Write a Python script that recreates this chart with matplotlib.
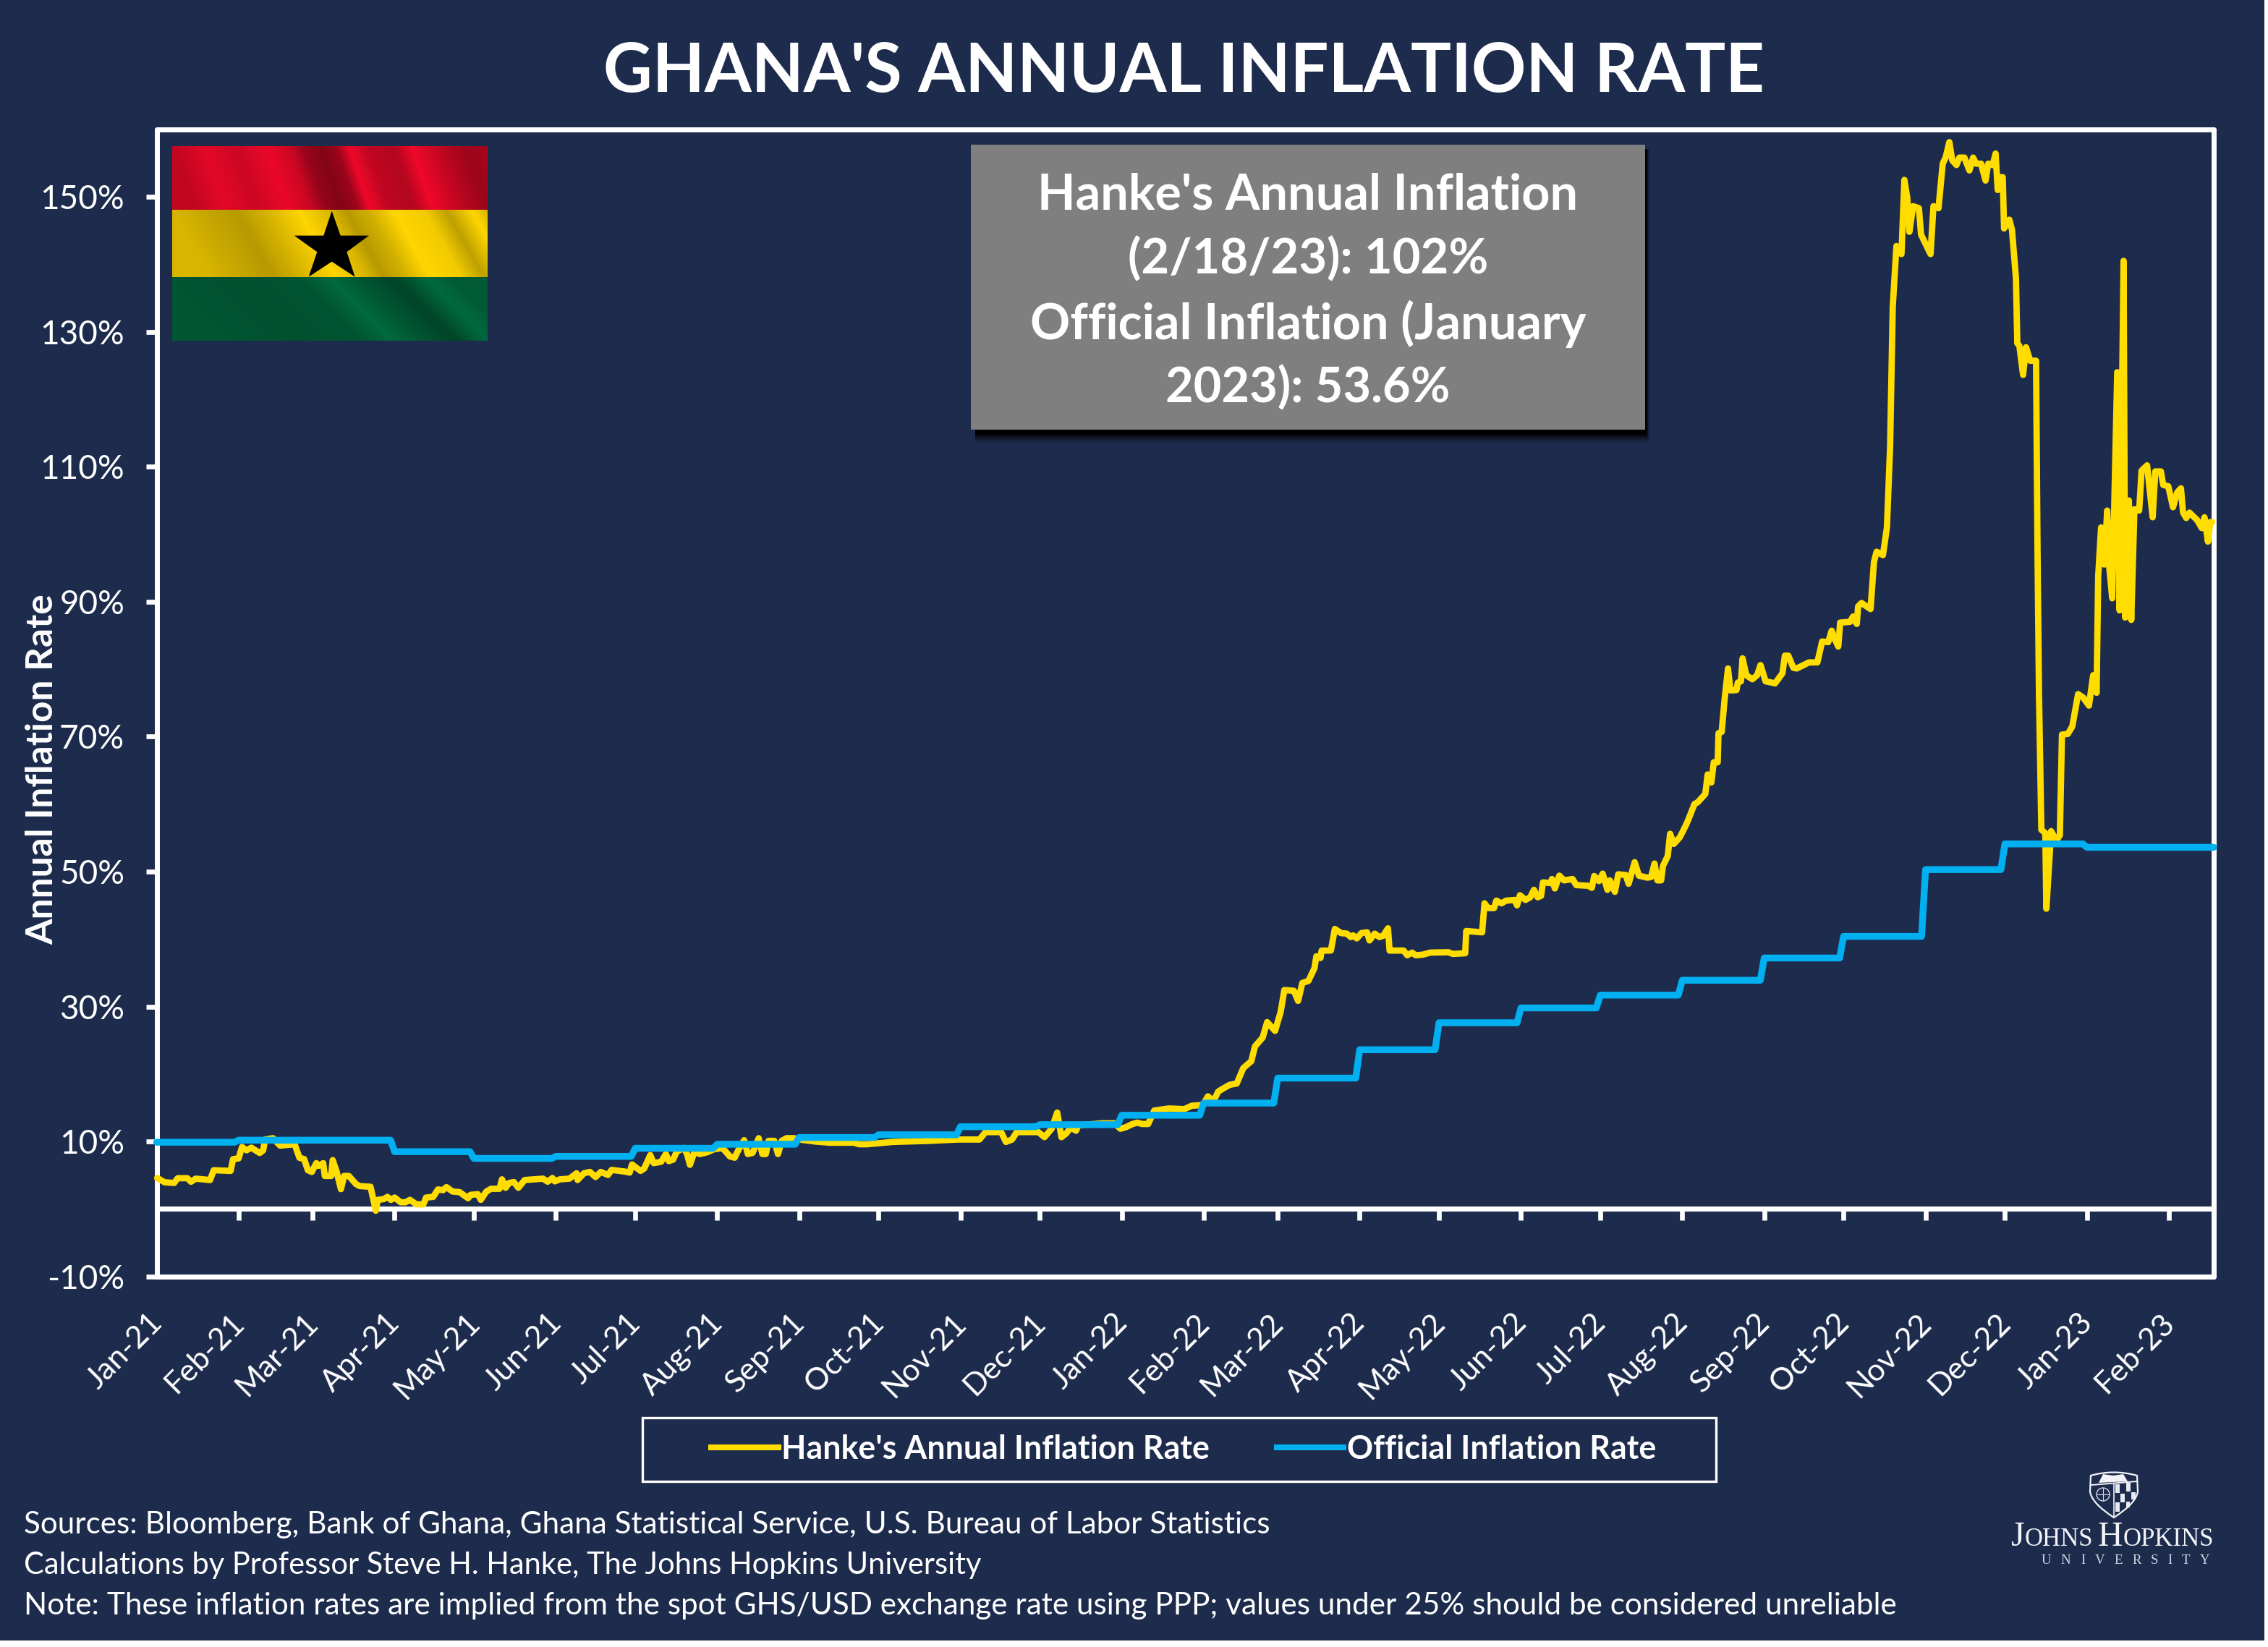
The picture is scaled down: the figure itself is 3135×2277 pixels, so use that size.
import numpy as np
import pandas as pd
import matplotlib
matplotlib.use("Agg")
import matplotlib.pyplot as plt
from matplotlib.patches import Rectangle, Polygon, Circle, PathPatch
from matplotlib.path import Path
from matplotlib.lines import Line2D
from matplotlib.transforms import ScaledTranslation

BG = "#1D2B4D"; YEL = "#FFDD00"; BLU = "#00B0F0"; WHITE = "#FFFFFF"
W, H = 3135, 2277

month_labels = ["Jan-21","Feb-21","Mar-21","Apr-21","May-21","Jun-21","Jul-21","Aug-21","Sep-21","Oct-21","Nov-21","Dec-21",
                "Jan-22","Feb-22","Mar-22","Apr-22","May-22","Jun-22","Jul-22","Aug-22","Sep-22","Oct-22","Nov-22","Dec-22",
                "Jan-23","Feb-23"]
official_values = [9.9,10.2,10.2,8.5,7.5,7.8,9.0,9.6,10.6,11.0,12.2,12.5,13.9,15.7,19.4,23.6,27.6,29.8,31.7,33.9,37.2,40.4,50.3,54.1,53.6,53.6]
y_ticks = [-10,10,30,50,70,90,110,130,150]

hanke_days = [0.2,3,6.6,8,11.6,13,14.8,20.2,21.6,28,28.9,31,32.3,34,35.8,39,40.3,41,44,46.7,52.2,54,55.8,57.2,58.7,60.4,61.3,63,63.6,66,66.6,68.1,69.7,70.9,72.7,75.4,76.8,80.9,82.9,83.6,85.9,87.3,88.6,90,92.3,94.1,95.8,98.2,100.9,101.9,104.6,106.4,108.3,109.6,111.9,114.6,117.8,118.7,121.5,122.6,124.7,126.5,129.7,130.6,132,
    133.3,135.1,136.8,139.2,146.1,147.9,149.7,150.6,152.5,156.1,158.8,159.2,161.6,163.9,166,168,170.7,172.1,177.1,178.9,179.8,183,184.4,186.7,188,190.8,192.6,193.7,195.3,196.7,199.4,200.6,201.7,203.4,205.4,208.1,210.8,214,216.8,218.6,220.4,222.2,223.6,225.4,227.7,229.1,230.4,231.4,233.6,235,236.4,238.2,241,243.2,249.1,254.6,263.7,265.6,
    268.7,278.4,292,303,305.7,311.2,313.5,319.4,321.2,323.5,325.3,333.5,335.8,338.5,340.6,342.2,344,345.8,347.7,348.6,357.7,362.3,364.5,366.4,369.1,370.9,372.7,375,377.3,382.8,388.7,391.4,395.1,396,397.6,399.7,401.5,403.1,405.8,408.5,411,414,415.4,418.3,420,423,425.1,426.5,
    430.1,431.7,433.3,435.6,437.9,438.6,440.2,440.6,444.1,445.6,447.9,450.2,451.6,452.5,453.9,455.7,457.8,458.7,460.7,462.5,463.9,465.7,466.3,471.6,473,474.8,476.2,478.9,481.7,488.5,490.3,494.9,495.3,501.3,502.2,503.6,505.8,506.7,508.6,510.4,513.6,514.5,515.6,517.7,519.5,520.9,522.3,523.6,524.3,527.3,527.7,528.8,530.5,532.3,535.5,536.9,541.4,542.8,543.7,545.5,546.9,548.7,549.6,551.5,552.8,555.6,556.7,559,560.6,563.8,565.2,566.5,567.6,569,569.7,571.5,572.4,573.8,576.1,578.4,579.3,581.6,582.9,585.7,586.6,588,588.9,590.4,590.7,591.9,593,594.3,595.2,597.5,598,599.2,599.8,601.2,603.5,605.3,606.6,608.5,612.1,614.9,615.8,617.1,619,620.3,624.9,628.1,629.9,632.2,633.5,634.5,636,636.7,640.4,641.6,643,643.5,644.8,648.2,649.5,650.5,652.9,654.4,655.6,656.6,658,659.9,661,662.1,662.9,664.3,666.5,667.3,670.9,672,673.9,675.5,676.6,678,679.1,680.7,681.8,683.7,685.6,687,688.1,690,691.7,692.7,694.4,695.5,696.3,697.4,698.2,698.7,700.7,701.7,703.2,703.7,704.5,705.9,707,708.6,710.8,711.4,711.9,712.8,714.3,714.7,716.5,718.5,719.8,720.6,722.8,724.5,726.7,728.6,730.8,732.4,733.7,734.3,735.4,736.6,737.7,738.4,739.6,741.5,742.4,743.9,744.5,745.9,746.8,748,749.8,750.7,752.8,754.9,755.9,758,758.9,760.8,762.6,764.2,765.6,766.4,767.6,768.8,771.7,773.5,774.5,775.8,776.7,777.4]
hanke_values = [4.6,3.97,3.86,4.57,4.57,4.04,4.5,4.3,5.75,5.65,7.4,7.5,9.2,8.7,9.1,8.3,8.7,10.3,10.5,9.4,9.6,7.6,7.4,5.75,5.5,6.8,6.4,6.8,4.9,4.9,7.25,5.5,2.95,4.9,4.9,3.7,3.4,3.3,-0.25,1.36,1.47,1.8,1.36,1.7,1.0,1.0,1.36,0.7,0.7,1.7,1.8,2.9,2.8,3.25,2.6,2.5,1.6,2.1,2.2,1.36,2.6,3.0,3.0,4.4,3.15,
    3.86,4.0,3.15,4.3,4.5,4.05,4.6,4.1,4.4,4.5,5.3,4.3,5.3,5.5,4.75,5.5,5.05,5.8,5.55,5.4,6.6,5.65,6.0,8.0,6.8,7.0,8.15,7.1,7.3,8.5,9.05,8.15,6.55,8.5,8.15,8.4,8.85,9.05,7.8,7.6,9.05,10.2,8.15,8.33,10.5,8.15,8.15,10.1,10.1,8.15,10.1,10.5,10.5,10.3,10.0,9.83,9.83,9.6,
    9.6,9.94,10.1,10.3,10.3,10.3,11.4,11.4,9.94,10.3,11.4,11.4,10.65,11.9,14.3,10.65,11.2,12.1,11.6,12.4,12.7,12.7,11.9,12.1,12.6,12.8,12.6,12.6,14.6,14.9,14.8,15.3,15.4,15.65,16.7,16,17.4,17.8,18.4,18.6,20.9,21.9,24.1,25.4,27.7,26.4,29.2,32.45,
    32.34,30.84,33.5,33.8,35.7,37.45,37.2,38.3,38.3,41.5,40.9,40.8,40.3,40.55,40.1,40.9,41,39.8,40.8,40.3,40.5,41.6,38.3,38.3,37.6,38,37.6,37.7,38,38.05,37.8,37.9,41.2,41,45.3,44.6,44.6,45.7,45.3,45.7,45.8,45,46.5,45.8,46.2,47.3,46.2,46.4,48.4,48.3,48.9,47.5,49.4,48.7,48.9,48,47.9,47.6,49.35,48.6,49.7,47.3,48.7,47,49.6,49.5,48.2,51.4,49.4,49.1,49.2,51.2,48.7,48.7,50.85,52.3,55.6,54.1,55.1,56.9,57.7,60,60.3,61.5,64.4,63.2,66.2,66.2,70.5,70.7,75.5,80.1,76.85,76.9,78,78.2,81.6,79.1,78.5,79.1,80.6,78.2,77.9,79.4,82,82,80.2,80.1,81,81,84.1,84,85.7,84.6,83.35,86.9,87,87.8,86.7,89.3,89.8,88.9,95.9,97.4,96.9,101,113,133.7,142.7,141.5,152.5,149.8,144.8,148.6,148.3,144.4,141.5,148.6,148.3,154.9,155.8,158.1,155.4,154.7,155.8,155.8,153.9,155.8,154.9,154.9,152.4,154.9,154.7,156.4,151,152.9,152.9,145.3,146.6,145.1,137.9,128.3,127.9,123.6,127.7,125.7,125.7,95.6,76.5,56.2,55.7,44.5,56,54.6,55.4,70.3,70.4,71.5,76.3,75.8,74.6,79.1,76.5,93.8,101,95.5,103.5,95.5,90.5,124,88.7,140.5,87.65,105,87.3,103.7,103.5,109.4,110.2,102.5,109.3,109.3,107.3,107.1,104,106.2,106.8,103.2,102.4,103.2,102.1,100.9,102.5,98.9,101.8,101.8]

hanke_label = "Hanke's Annual Inflation Rate"
official_label = "Official Inflation Rate"
title = "GHANA'S ANNUAL INFLATION RATE"
box_lines = ["Hanke's Annual Inflation", "(2/18/23): 102%", "Official Inflation (January", "2023): 53.6%"]
notes = ["Sources: Bloomberg, Bank of Ghana, Ghana Statistical Service, U.S. Bureau of Labor Statistics",
         "Calculations by Professor Steve H. Hanke, The Johns Hopkins University",
         "Note: These inflation rates are implied from the spot GHS/USD exchange rate using PPP; values under 25% should be considered unreliable"]

plt.rcParams["font.family"] = ["Lato", "DejaVu Sans"]
fig = plt.figure(figsize=(W/100, H/100), dpi=100, facecolor="white")

# ---- pixel-space decoration layer
deco = fig.add_axes([0, 0, 1, 1], zorder=0)
deco.set_xlim(0, W); deco.set_ylim(H, 0); deco.axis("off")
deco.add_patch(Rectangle((0, 0), 3130, 2268, fc=BG, ec="none"))

# flag: band colour times a hand-placed fold shading, the folds leaning with height
def band(base, xs, shades, lean, rows):
    u = np.linspace(0, 1, 440)
    img = np.zeros((rows, 440, 3), dtype=np.uint8)
    for r in range(rows):
        col = np.interp(u - lean * r / rows, xs, shades)
        img[r] = np.clip(col[:, None] * np.array(base), 0, 255).astype(np.uint8)
    return img
red = band((240, 8, 42), [-.2,0,.1,.2,.3,.37,.42,.47,.52,.56,.62,.7,.76,.85,.93,1],
           [.85,.8,.95,.85,.98,.85,.62,.55,.65,1.0,.8,.75,1,.8,.65,.7], .07, 88)
yel = band((255, 214, 0), [-.2,0,.1,.2,.3,.4,.5,.55,.62,.7,.8,.87,.95,1],
           [.85,.85,.78,.72,.85,1,.85,.72,.82,1,.95,.75,1,.85], .12, 93)
grn = band((0, 100, 60), [-.3,0,.2,.4,.5,.6,.7,.8,.9,1],
           [.85,.85,.8,.85,1.05,.85,.68,1.05,.9,.9], .2, 88)
deco.imshow(red, extent=(238, 674, 290, 202), aspect="auto", zorder=1, interpolation="bilinear")
deco.imshow(yel, extent=(238, 674, 383, 290), aspect="auto", zorder=1, interpolation="bilinear")
deco.imshow(grn, extent=(238, 674, 471, 383), aspect="auto", zorder=1, interpolation="bilinear")
deco.set_xlim(0, W); deco.set_ylim(H, 0)
star = [(776,365),(812,467),(930,467),(838,535),(872,638),(776,575),(680,638),(715,535),(620,467),(742,467)]
deco.add_patch(Polygon([(200+a/3, 170+b/3) for a, b in star], fc="black", ec="none", zorder=2))

# grey box and shadow
bx0, by0, bx1, by1 = 1342, 200, 2274, 594
for d, a in [(18, .12), (15, .2), (12, .35), (9, .6), (6, .9)]:
    deco.add_patch(Rectangle((bx0 + 6, by0 + 6), bx1 - bx0 - 6 + d*.35, by1 - by0 + d - 6, fc="black", ec="none", alpha=a, zorder=1))
deco.add_patch(Rectangle((bx0, by0), bx1 - bx0, by1 - by0, fc="#7F7F7F", ec="none", zorder=2))

# legend frame
deco.add_patch(Rectangle((888, 1960), 1484, 88, fc="none", ec=WHITE, lw=2.4, zorder=2))

renderer = fig.canvas.get_renderer()
def fit_text(x, y, s, width, **kw):
    t = fig.text(x/W, 1 - y/H, s, color=kw.pop("color", WHITE), fontsize=30, **kw)
    t.set_fontsize(30 * width / t.get_window_extent(renderer).width)
    return t

fit_text(1636, 100, title, 1604, ha="center", va="center", fontweight="bold")
for s, yy, w in zip(box_lines, [270, 359, 448, 537], [746, 498, 768, 392]):
    fit_text(1808, yy, s, w, ha="center", va="center", fontweight="bold")
for s, yy, w in zip(notes, [2108, 2164, 2220], [1722, 1324, 2586]):
    fit_text(33, yy, s, w, ha="left", va="center")

# Johns Hopkins wordmark
def run(x, y, pieces, color="#F2F4F8", family="Liberation Serif", gap=0):
    for s, fs in pieces:
        t = fig.text(x/W, 1 - y/H, s, color=color, family=family, fontsize=fs, ha="left", va="baseline")
        x += t.get_window_extent(renderer).width + gap
    return x
run(2780, 2137, [("J", 34.5), ("OHNS", 25), (" ", 19), ("H", 34.5), ("OPKINS", 25)])
run(2822, 2162, [(c, 13.5) for c in "UNIVERSITY"], color="#D5DAE4", gap=13.3)

# shield
verts = [(2890,2040),(2922,2031),(2954,2040),(2955,2062),(2953,2078),(2922,2098),(2891,2078),(2889,2062),(2890,2040)]
codes = [Path.MOVETO,Path.CURVE3,Path.CURVE3,Path.LINETO,Path.CURVE3,Path.CURVE3,Path.CURVE3,Path.CURVE3,Path.CLOSEPOLY]
deco.add_patch(PathPatch(Path(verts, codes), fc="none", ec="#F2F4F8", lw=1.6, zorder=4))
deco.plot([2891, 2954], [2053, 2048], color="#F2F4F8", lw=1.4, zorder=4)
deco.add_patch(Polygon([(2901,2050),(2907,2038),(2921,2040),(2935,2038),(2941,2048)], fc="#F2F4F8", ec="none", zorder=4))
deco.add_patch(Circle((2907, 2066), 9, fc="none", ec="#D5DAE4", lw=1, zorder=4))
deco.plot([2898, 2916], [2066, 2066], color="#D5DAE4", lw=.8, zorder=4)
deco.plot([2907, 2907], [2057, 2075], color="#D5DAE4", lw=.8, zorder=4)
deco.plot([2922, 2922], [2051, 2096], color="#F2F4F8", lw=1.2, zorder=4)
for (a, b, c, d) in [(2924,2052,6,12),(2939,2050,6,12),(2931,2065,6,12),(2946,2063,6,10),(2924,2077,6,13),(2939,2076,5,8)]:
    deco.add_patch(Rectangle((a, b), c, d, fc="#E6E9F0", ec="none", zorder=3))

# ---- chart
L, R, T, B = 216.5, 3060, 178.7, 1764.8
ax = fig.add_axes([L/W, 1 - B/H, (R - L)/W, (B - T)/H], zorder=2)
ax.patch.set_visible(False)
ax.set_xlim(0, 778); ax.set_ylim(-10, 160)

month_dates = pd.to_datetime(month_labels, format="%b-%y")
month_days = np.array((month_dates - month_dates[0]).days, dtype=float)
off_x = [0.0]; off_y = [official_values[0]]
for i, v in enumerate(official_values):
    start = month_days[i]
    end = month_days[i + 1] - 1.5 if i + 1 < len(month_days) else 778.0
    off_x += [start, end]; off_y += [v, v]

h_line, = ax.plot(hanke_days, hanke_values, color=YEL, lw=6.3, solid_joinstyle="round", solid_capstyle="round",
                  clip_on=False, zorder=5, label=hanke_label)
o_line, = ax.plot(off_x, off_y, color=BLU, lw=6.8, solid_joinstyle="round", solid_capstyle="round",
                  clip_on=False, zorder=6, label=official_label)

for sp in ax.spines.values():
    sp.set_color(WHITE); sp.set_linewidth(5); sp.set_capstyle("round")
ax.set_yticks(y_ticks)
ax.set_yticklabels([f"{v}%" for v in y_ticks])
ax.tick_params(axis="y", colors=WHITE, length=11, width=4.8, pad=21, labelsize=33)
ax.set_xticks(month_days)
ax.set_xticklabels(month_labels, rotation=45, ha="right", rotation_mode="anchor", color=WHITE, fontsize=31)
ax.tick_params(axis="x", length=0, pad=32)
shift = ScaledTranslation(-12/100, 0, fig.dpi_scale_trans)
for lab in ax.get_xticklabels():
    lab.set_transform(lab.get_transform() + shift)
ax.set_ylabel("Annual Inflation Rate", color=WHITE, fontsize=37, fontweight="bold")
ax.yaxis.set_label_coords((82 - L)/(R - L), (B - 1064)/(B - T))

zero_axis = ax.secondary_xaxis(10/170)
zero_axis.set_xticks(month_days[1:])
zero_axis.set_xticklabels([])
zero_axis.spines["bottom"].set_color(WHITE)
zero_axis.spines["bottom"].set_linewidth(5)
zero_axis.tick_params(axis="x", colors=WHITE, length=11.5, width=4.8, direction="out")

leg_handles = [Line2D([], [], color=YEL, lw=5.8, label=hanke_label), Line2D([], [], color=BLU, lw=5.8, label=official_label)]
leg = fig.legend(handles=leg_handles, loc="center", bbox_to_anchor=(1636/W, 1 - 2004/H), ncol=2, frameon=False,
                 handlelength=2.07, handletextpad=0.1, columnspacing=2.07, borderpad=0,
                 prop={"weight": "bold", "size": 32.2}, labelcolor=WHITE)

fig.savefig("out.png", dpi=100, facecolor=fig.get_facecolor())
